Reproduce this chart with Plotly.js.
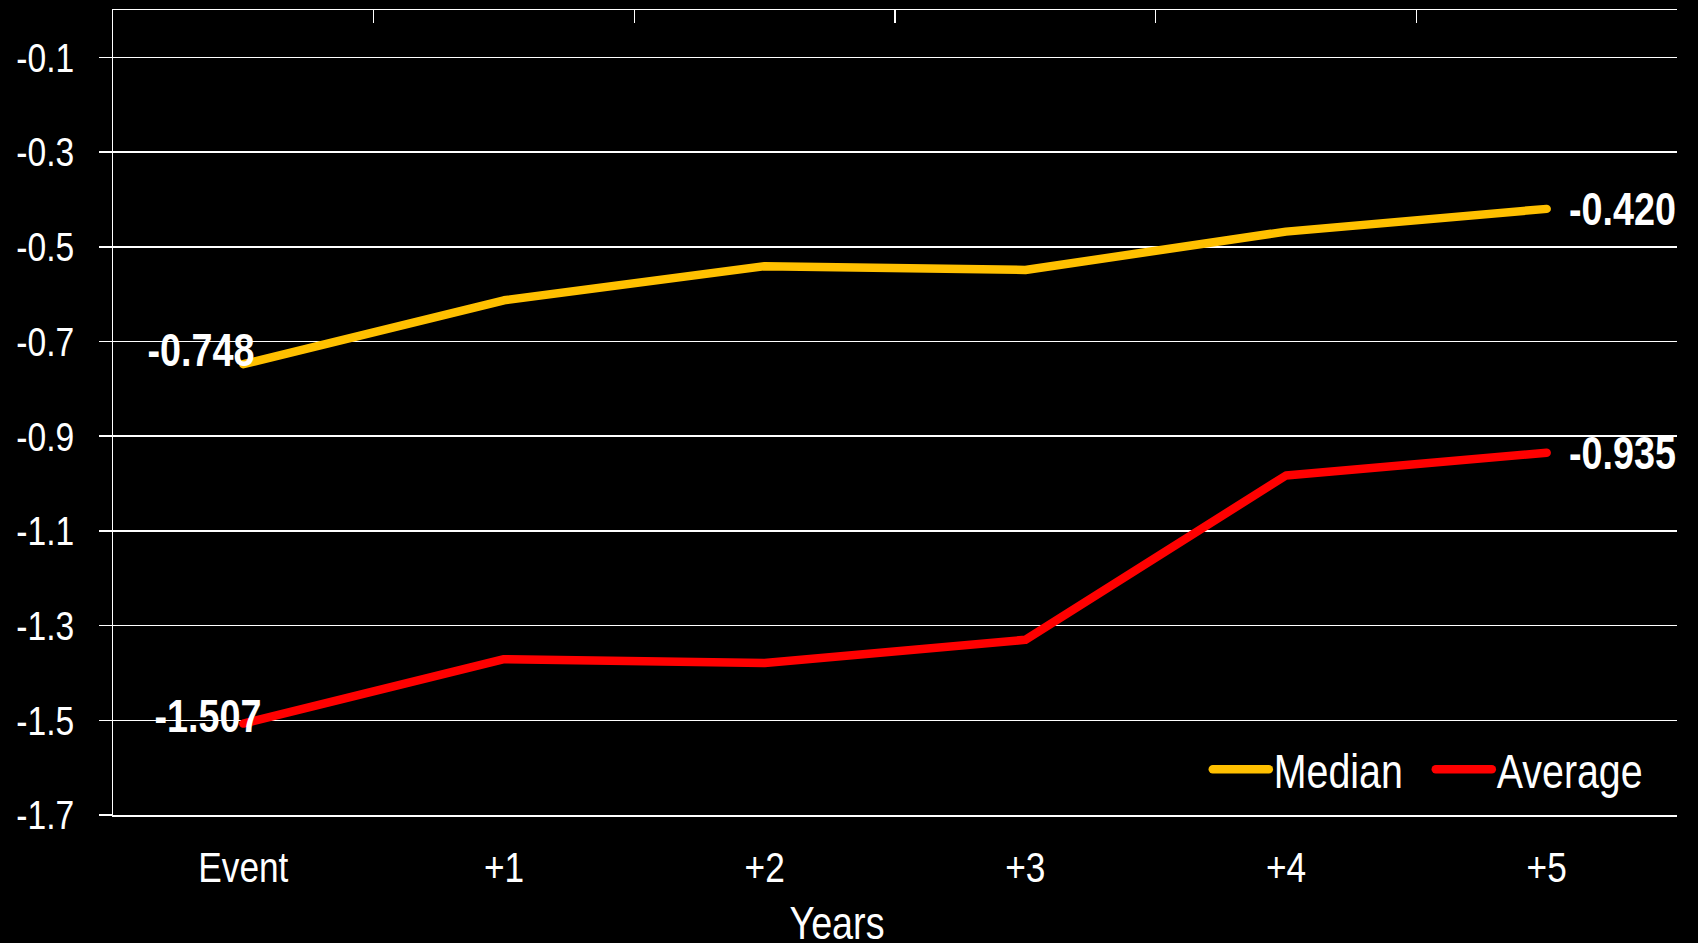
<!DOCTYPE html>
<html>
<head>
<meta charset="utf-8">
<script src="https://cdn.plot.ly/plotly-3.0.1.min.js"></script>
<style>
  html, body { margin: 0; padding: 0; background: #000; }
  #chart { width: 1698px; height: 943px; }
  #chart .js-line { stroke-linecap: round; stroke-linejoin: round; }
</style>
</head>
<body>
<div id="chart"></div>
<script>
// Years relative to the event
const categories = ['Event', '+1', '+2', '+3', '+4', '+5'];

// Median and average values per year
const medianValues = [-0.748, -0.613, -0.541, -0.549, -0.468, -0.420];
const averageValues = [-1.507, -1.371, -1.379, -1.330, -0.983, -0.935];

// Y axis ticks (written with a plain hyphen)
const yTickVals = [-1.7, -1.5, -1.3, -1.1, -0.9, -0.7, -0.5, -0.3, -0.1];
const yTickText = ['-1.7', '-1.5', '-1.3', '-1.1', '-0.9', '-0.7', '-0.5', '-0.3', '-0.1'];

const FONT = '"Liberation Sans", Arial, sans-serif';
const NARROW = 0.82;   // horizontal squeeze giving a narrow face
const GOLD = '#FFC000';
const RED = '#FF0000';

const traces = [
  {
    x: categories, y: medianValues, name: 'Median', type: 'scatter', mode: 'lines',
    line: { color: GOLD, width: 8.5 }, hoverinfo: 'x+y'
  },
  {
    x: categories, y: averageValues, name: 'Average', type: 'scatter', mode: 'lines',
    line: { color: RED, width: 8.5 }, hoverinfo: 'x+y'
  },
  // carrier for the top frame axis
  {
    x: categories, y: medianValues, xaxis: 'x2', type: 'scatter', mode: 'lines',
    line: { width: 0 }, showlegend: false, hoverinfo: 'skip', opacity: 0
  }
];

function endLabel(xv, yv, side, xshift, yshift) {
  return {
    x: xv, y: yv, xref: 'x', yref: 'y',
    text: yv.toFixed(3),
    showarrow: false,
    xanchor: side, yanchor: 'middle', align: side,
    xshift: xshift, yshift: yshift,
    font: { family: FONT, size: 46, color: '#ffffff', weight: 'bold' }
  };
}

const last = categories.length - 1;
const annotations = [
  endLabel(categories[0], medianValues[0], 'right', 13, 14),
  endLabel(categories[0], averageValues[0], 'right', 20, 8),
  endLabel(categories[last], medianValues[last], 'left', 20, 0),
  endLabel(categories[last], averageValues[last], 'left', 20, 0),
  {
    text: 'Years', xref: 'paper', yref: 'paper', x: 0.463, y: -0.134,
    xanchor: 'center', yanchor: 'middle', showarrow: false,
    font: { family: FONT, size: 46, color: '#ffffff' }
  }
];

const layout = {
  width: 1698, height: 943,
  paper_bgcolor: '#000000', plot_bgcolor: '#000000',
  margin: { l: 113, r: 21, t: 10, b: 128 },
  showlegend: true,
  legend: {
    orientation: 'h', x: 0.7, xanchor: 'left', y: 0.0565, yanchor: 'middle',
    bgcolor: 'rgba(0,0,0,0)', font: { family: FONT, size: 48, color: '#ffffff' },
    itemwidth: 56, entrywidth: 152, entrywidthmode: 'pixels', tracegroupgap: 0
  },
  xaxis: {
    type: 'category', range: [-0.5, 5.5], fixedrange: true,
    showline: true, linecolor: '#ffffff', linewidth: 1.5,
    showgrid: false, zeroline: false, ticks: '',
    tickfont: { family: FONT, size: 43, color: '#ffffff' },
    ticklabelstandoff: 14
  },
  xaxis2: {
    overlaying: 'x', matches: 'x', side: 'top', type: 'category',
    showline: true, linecolor: '#ffffff', linewidth: 1.5,
    ticks: 'inside', tickson: 'boundaries', ticklen: 13, tickwidth: 1.5, tickcolor: '#ffffff',
    showticklabels: false, showgrid: false, zeroline: false
  },
  yaxis: {
    range: [-1.7, 0], fixedrange: true,
    tickmode: 'array', tickvals: yTickVals, ticktext: yTickText,
    showline: true, linecolor: '#ffffff', linewidth: 1.5,
    ticks: 'outside', ticklen: 13, tickwidth: 1.5, tickcolor: '#ffffff',
    showgrid: true, gridcolor: '#ffffff', gridwidth: 1.5, zeroline: false,
    tickfont: { family: FONT, size: 41, color: '#ffffff' },
    ticklabelstandoff: 16
  },
  annotations: annotations
};

// Squeeze every label horizontally about its anchor point
function condenseText(gd, s) {
  gd.querySelectorAll('svg text').forEach(function (t) {
    if (!t.textContent) return;
    const bb = t.getBBox();
    const anchor = t.getAttribute('text-anchor') || window.getComputedStyle(t).textAnchor || 'start';
    let px = bb.x;
    if (anchor === 'middle') px = bb.x + bb.width / 2;
    else if (anchor === 'end') px = bb.x + bb.width;
    const prev = t.getAttribute('transform') || '';
    t.setAttribute('transform', prev + ' translate(' + px + ',0) scale(' + s + ',1) translate(' + (-px) + ',0)');
  });
}

Plotly.newPlot('chart', traces, layout, { displayModeBar: false, staticPlot: true })
  .then(function (gd) { condenseText(gd, NARROW); });
</script>
</body>
</html>
